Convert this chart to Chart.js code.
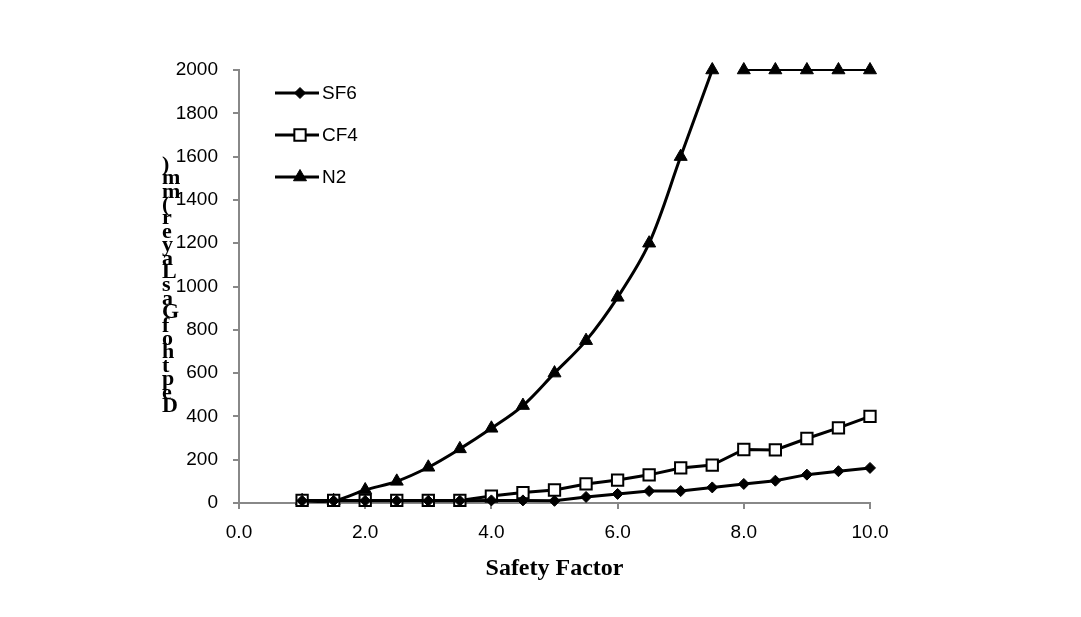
<!DOCTYPE html>
<html>
<head>
<meta charset="utf-8">
<script src="https://cdn.jsdelivr.net/npm/chart.js@4/dist/chart.umd.min.js"></script>
<style>
html,body{margin:0;padding:0;background:#fff;}
</style>
</head>
<body>
<canvas id="myChart" width="1081" height="617"></canvas>
<script>
var factors = [1.0, 1.5, 2.0, 2.5, 3.0, 3.5, 4.0, 4.5, 5.0, 5.5, 6.0, 6.5, 7.0, 7.5, 8.0, 8.5, 9.0, 9.5, 10.0];
var sf6 = [10, 10, 10, 10, 10, 10, 12, 12, 10, 28, 42, 55, 55, 72, 88, 103, 131, 147, 162];
var cf4 = [12, 12, 12, 12, 12, 12, 32, 48, 60, 88, 106, 130, 162, 175, 247, 245, 298, 347, 400];
var n2 = [10, 10, 60, 100, 165, 250, 345, 450, 600, 750, 950, 1200, 1600, 2000, 2000, 2000, 2000, 2000, 2000];
var n2Break = 14; // the N2 line is broken between 7.5 and 8.0
var seriesNames = ['SF6', 'CF4', 'N2'];
var xTitle = 'Safety Factor';
var yTitle = 'Depth of Gas Layer (mm)';

function pts(values, from, to){
    from = from || 0;
    to = to || values.length;
    var out = [];
    for(var i = from; i < to; i++){ out.push({x: factors[i], y: values[i]}); }
    return out;
}

function drawMarker(ctx, style, x, y, r, fill){
    ctx.beginPath();
    if(style === 'rectRot'){
        ctx.moveTo(x - r, y); ctx.lineTo(x, y - r); ctx.lineTo(x + r, y); ctx.lineTo(x, y + r);
    } else if(style === 'rect'){
        var s = r * Math.SQRT1_2;
        ctx.rect(x - s, y - s, 2 * s, 2 * s);
    } else {
        ctx.moveTo(x, y - r);
        ctx.lineTo(x + r * 0.866, y + r * 0.5);
        ctx.lineTo(x - r * 0.866, y + r * 0.5);
    }
    ctx.closePath();
    ctx.fillStyle = fill;
    ctx.fill();
    ctx.stroke();
}

// vertical stacked y title + legend inside the plot
var extraText = {
    id: 'extraText',
    afterDraw: function(chart){
        var ctx = chart.ctx;
        var area = chart.chartArea;
        ctx.save();
        ctx.fillStyle = '#000';
        ctx.font = 'bold 22px "Liberation Serif"';
        ctx.textAlign = 'left';
        ctx.textBaseline = 'alphabetic';
        var chars = yTitle.replace(/ /g, '').split('');
        for(var i = 0; i < chars.length; i++){
            ctx.fillText(chars[i], area.left - 77, area.bottom - 91 - i * 13.4);
        }

        var shown = chart.data.datasets.filter(function(ds){ return !ds.noLegend; });
        shown.forEach(function(ds, i){
            var y = area.top + 23 + i * 42;
            ctx.strokeStyle = '#000';
            ctx.lineWidth = 3;
            ctx.beginPath();
            ctx.moveTo(area.left + 36, y);
            ctx.lineTo(area.left + 80, y);
            ctx.stroke();
            ctx.lineWidth = ds.pointBorderWidth;
            drawMarker(ctx, ds.pointStyle, area.left + 61, y, ds.pointRadius, ds.pointBackgroundColor);
            ctx.fillStyle = '#000';
            ctx.font = '19px "Liberation Sans"';
            ctx.textBaseline = 'middle';
            ctx.fillText(ds.label, area.left + 83, y + 1);
        });
        ctx.restore();
    }
};

var triangleStyle = {
    borderColor: '#000',
    pointStyle: 'triangle',
    pointRadius: 7.5,
    pointBorderWidth: 1,
    pointBackgroundColor: '#000',
    pointBorderColor: '#000',
    clip: false
};

var ctx = document.getElementById('myChart').getContext('2d');
var myChart = new Chart(ctx, {
    type: 'line',
    data: {
        datasets: [{
            label: seriesNames[0],
            data: pts(sf6),
            borderColor: '#000',
            borderWidth: 3,
            pointStyle: 'rectRot',
            pointRadius: 5.5,
            pointBorderWidth: 1,
            pointBackgroundColor: '#000',
            pointBorderColor: '#000',
            tension: 0,
            clip: false
        }, {
            label: seriesNames[1],
            data: pts(cf4),
            borderColor: '#000',
            borderWidth: 3,
            pointStyle: 'rect',
            pointRadius: 8,
            pointBorderWidth: 2,
            pointBackgroundColor: '#fff',
            pointBorderColor: '#000',
            tension: 0,
            clip: false
        }, Object.assign({
            label: seriesNames[2],
            data: pts(n2, 0, n2Break),
            borderWidth: 3,
            tension: 0.35,
            capBezierPoints: false
        }, triangleStyle), Object.assign({
            label: seriesNames[2],
            noLegend: true,
            data: pts(n2, n2Break),
            borderWidth: 2,
            tension: 0
        }, triangleStyle)]
    },
    options: {
        responsive: false,
        animation: false,
        layout: {padding: {left: 0, top: 70, right: 211, bottom: 0}},
        plugins: {legend: {display: false}, tooltip: {enabled: false}},
        scales: {
            x: {
                type: 'linear',
                min: 0,
                max: 10,
                ticks: {
                    stepSize: 2,
                    color: '#000',
                    padding: 12,
                    font: {family: 'Liberation Sans', size: 19},
                    callback: function(v){ return v.toFixed(1); }
                },
                grid: {drawOnChartArea: false, tickLength: 6, color: '#888', lineWidth: 2},
                border: {color: '#888', width: 2},
                title: {
                    display: true,
                    text: xTitle,
                    color: '#000',
                    font: {family: 'Liberation Serif', size: 24, weight: 'bold'},
                    padding: {top: 0, bottom: 34}
                },
                afterFit: function(scale){ scale.height = 114; }
            },
            y: {
                min: 0,
                max: 2000,
                ticks: {
                    stepSize: 200,
                    color: '#000',
                    padding: 15,
                    font: {family: 'Liberation Sans', size: 19},
                    callback: function(v){ return String(v); }
                },
                grid: {drawOnChartArea: false, tickLength: 6, color: '#888', lineWidth: 2},
                border: {color: '#888', width: 2},
                afterFit: function(scale){ scale.width = 239; }
            }
        }
    },
    plugins: [extraText]
});
</script>
</body>
</html>
